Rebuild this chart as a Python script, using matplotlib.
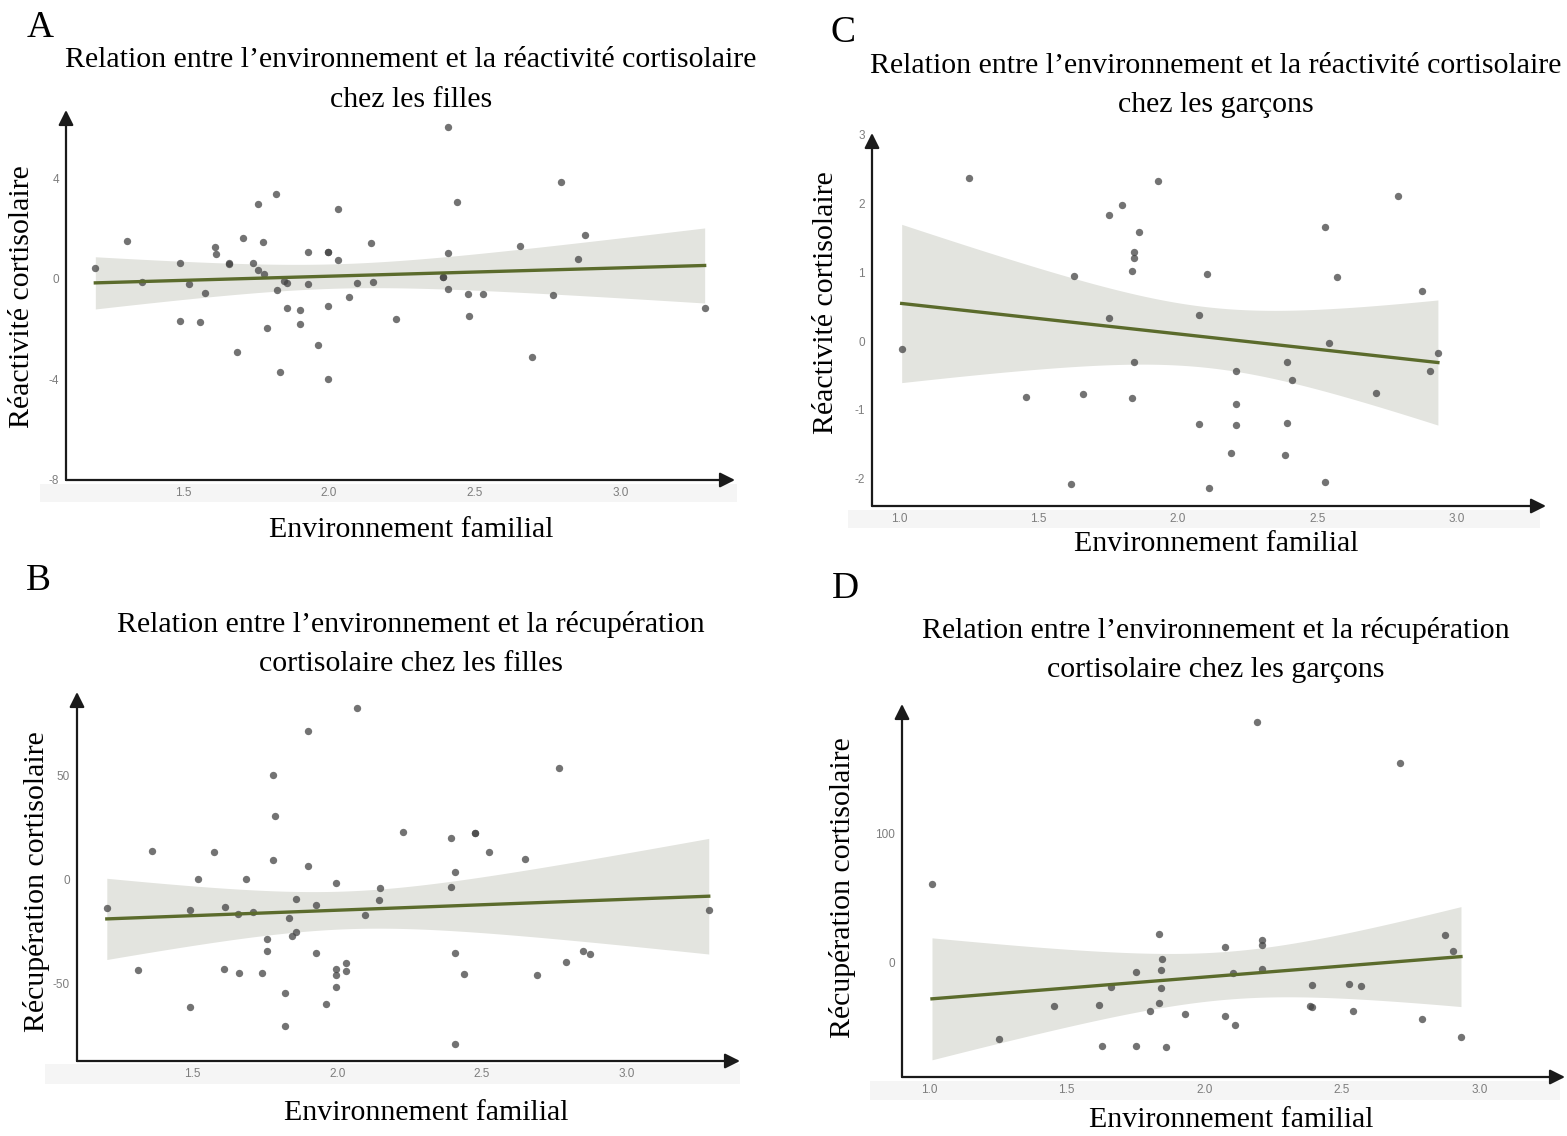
import numpy as np
import matplotlib
matplotlib.use("Agg")
import matplotlib.pyplot as plt
from matplotlib.patches import Rectangle

# ---- data ----
# A : filles, réactivité
a_x = [1.20, 1.31, 1.36, 1.49, 1.49, 1.52, 1.56, 1.575, 1.61, 1.614, 1.659, 1.659, 1.684, 1.706, 1.74,
       1.756, 1.756, 1.776, 1.778, 1.787, 1.819, 1.821, 1.834, 1.846, 1.858, 1.858, 1.90, 1.903, 1.928, 1.93,
       1.964, 1.997, 1.997, 1.998, 1.998, 2.031, 2.032, 2.07, 2.096, 2.145, 2.15, 2.23, 2.392, 2.392, 2.41,
       2.41, 2.41, 2.44, 2.478, 2.48, 2.53, 2.654, 2.695, 2.768, 2.795, 2.853, 2.877, 3.288]
a_y = [0.42, 1.51, -0.13, 0.65, -1.68, -0.19, -1.71, -0.56, 1.28, 1.01, 0.64, 0.58, -2.91, 1.62, 0.64,
       2.99, 0.36, 1.48, 0.19, -1.96, 3.36, -0.44, -3.72, -0.07, -0.16, -1.14, -1.80, -1.25, 1.07, -0.20,
       -2.64, 1.09, 1.08, -1.09, -3.99, 2.79, 0.77, -0.72, -0.16, 1.42, -0.12, -1.60, 0.09, 0.07, 6.03,
       1.05, -0.41, 3.05, -0.62, -1.47, -0.62, 1.30, -3.10, -0.65, 3.87, 0.79, 1.74, -1.15]

# B : filles, récupération
b_x = [1.204, 1.313, 1.359, 1.49, 1.491, 1.519, 1.576, 1.61, 1.613, 1.658, 1.66, 1.686, 1.708, 1.741, 1.756,
       1.756, 1.777, 1.777, 1.785, 1.82, 1.82, 1.835, 1.845, 1.857, 1.859, 1.90, 1.90, 1.926, 1.928, 1.962,
       1.997, 1.997, 1.997, 1.997, 2.031, 2.031, 2.069, 2.095, 2.144, 2.149, 2.228, 2.392, 2.392, 2.406, 2.406,
       2.406, 2.44, 2.476, 2.476, 2.526, 2.65, 2.69, 2.765, 2.79, 2.85, 2.875, 3.284]
b_y = [-13.5, -43.6, 13.9, -14.7, -61.4, 0.5, 13.3, -43.0, -13.3, -16.7, -44.7, 0.5, -15.4, -44.7, -28.7,
       -34.5, 50.5, 9.6, 30.8, -54.5, -70.5, -18.6, -27.2, -25.3, -9.5, 71.6, 6.4, -12.2, -35.1, -59.8,
       -1.8, -43.0, -45.7, -51.4, -40.1, -43.8, 82.4, -16.8, -9.8, -4.2, 22.9, 19.9, -3.4, 3.5, -35.3,
       -79.2, -45.2, 22.4, 22.2, 13.1, 9.8, -45.7, 53.7, -39.4, -34.5, -35.6, -14.7]

# C : garçons, réactivité
c_x = [1.01, 1.25, 1.455, 1.616, 1.627, 1.66, 1.753, 1.753, 1.80, 1.835, 1.835, 1.842, 1.844, 1.842, 1.86,
       1.928, 2.074, 2.074, 2.103, 2.112, 2.189, 2.21, 2.21, 2.21, 2.384, 2.39, 2.39, 2.408, 2.527, 2.527,
       2.54, 2.571, 2.711, 2.79, 2.874, 2.905, 2.932]
c_y = [-0.11, 2.37, -0.81, -2.08, 0.94, -0.77, 1.83, 0.33, 1.98, 1.01, -0.82, 1.29, 1.21, -0.30, 1.58,
       2.32, 0.38, -1.20, 0.97, -2.14, -1.62, -0.44, -0.91, -1.22, -1.65, -0.31, -1.19, -0.57, 1.65, -2.04,
       -0.03, 0.93, -0.76, 2.10, 0.72, -0.43, -0.18]

# D : garçons, récupération
d_x = [1.011, 1.254, 1.456, 1.616, 1.628, 1.662, 1.754, 1.754, 1.802, 1.836, 1.836, 1.843, 1.843, 1.845, 1.861,
       1.930, 2.074, 2.074, 2.104, 2.113, 2.191, 2.21, 2.21, 2.21, 2.384, 2.391, 2.391, 2.526, 2.54, 2.57,
       2.711, 2.791, 2.874, 2.904, 2.933]
d_y = [61.3, -59.0, -33.2, -32.2, -63.9, -18.8, -6.7, -63.9, -37.1, 22.4, -31.2, -19.1, -5.7, 2.6, -64.7,
       -39.9, 11.9, -41.0, -7.7, -47.9, 186.3, 17.5, 13.9, -4.6, -33.0, -34.3, -17.3, -16.2, -37.4, -18.0,
       154.6, -43.3, 21.9, 8.8, -57.2]

x_ticks_f = [1.5, 2.0, 2.5, 3.0]
x_ticks_g = [1.0, 1.5, 2.0, 2.5, 3.0]

W, H = 1567, 1136
fig = plt.figure(figsize=(W / 100, H / 100), dpi=100)

SERIF = "Liberation Serif"
TICK_C = "#7d7d7d"
LINE_C = "#5b6b2c"
BAND_C = "#e3e4df"
PT_C = "#444444"


def px_axes(left, right, top, bottom):
    return fig.add_axes([left / W, 1 - bottom / H, (right - left) / W, (bottom - top) / H])


def t975(df):
    z = 1.959964
    return z + (z**3 + z) / (4 * df) + (5 * z**5 + 16 * z**3 + 3 * z) / (96 * df**2)


def panel(ax, x, y, xlim, ylim, xticks, yticks):
    x = np.asarray(x)
    y = np.asarray(y)
    n = len(x)
    slope, icpt = np.polyfit(x, y, 1)
    resid = y - (icpt + slope * x)
    s = np.sqrt(np.sum(resid**2) / (n - 2))
    sxx = np.sum((x - x.mean())**2)
    xs = np.linspace(x.min(), x.max(), 200)
    fit = icpt + slope * xs
    half = t975(n - 2) * s * np.sqrt(1 / n + (xs - x.mean())**2 / sxx)
    ax.fill_between(xs, fit - half, fit + half, color=BAND_C, lw=0, zorder=1)
    ax.scatter(x, y, s=28, color=PT_C, alpha=0.75, lw=0, zorder=2)
    ax.plot(xs, fit, color=LINE_C, lw=2.4, zorder=3)

    ax.set_xlim(*xlim)
    ax.set_ylim(*ylim)
    ax.set_xticks(xticks)
    ax.set_xticklabels([f"{v:.1f}" for v in xticks])
    ax.set_yticks(yticks)
    ax.set_yticklabels([str(v) for v in yticks])
    ax.tick_params(length=0, labelsize=8.5, labelcolor=TICK_C, pad=5)
    for lab in ax.get_xticklabels() + ax.get_yticklabels():
        lab.set_family("Liberation Sans")
    for sp in ax.spines.values():
        sp.set_visible(False)
    ax.patch.set_alpha(0)
    arrow = dict(arrowstyle="-|>,head_length=0.9,head_width=0.45", color="#1a1a1a", lw=1.6,
                 shrinkA=0, shrinkB=0)
    ax.annotate("", xy=(1, 0), xytext=(0, 0), xycoords="axes fraction", arrowprops=arrow,
                annotation_clip=False)
    ax.annotate("", xy=(0, 1), xytext=(0, 0), xycoords="axes fraction", arrowprops=arrow,
                annotation_clip=False)


def txt(x, y, s, size=21.5, **kw):
    fig.text(x / W, 1 - y / H, s, family=SERIF, fontsize=size, ha="center", va="center", **kw)


# faint bands behind x tick labels (drawn below the axes)
for (l, r, t, b) in [(40, 737, 484, 502), (848, 1540, 510, 528), (45, 740, 1064, 1084), (870, 1560, 1081, 1100)]:
    fig.patches.append(Rectangle((l / W, 1 - b / H), (r - l) / W, (b - t) / H,
                                 transform=fig.transFigure, color="#f5f5f5", lw=0, zorder=-5))

axA = px_axes(66, 735, 110, 480)
panel(axA, a_x, a_y, (1.0995, 3.392), (-8.0, 6.72), x_ticks_f, [-8, -4, 0, 4])

axB = px_axes(77, 740, 692, 1061)
panel(axB, b_x, b_y, (1.101, 3.392), (-87.2, 90.2), x_ticks_f, [-50, 0, 50])

axC = px_axes(872, 1546, 133, 506)
panel(axC, c_x, c_y, (0.9036, 3.3195), (-2.395, 3.02), x_ticks_g, [-2, -1, 0, 1, 2, 3])

axD = px_axes(902, 1565, 704, 1077)
panel(axD, d_x, d_y, (0.902, 3.311), (-88.2, 200), x_ticks_g, [0, 100])

# panel letters
for (x, y, s) in [(40, 28, "A"), (843, 33, "C"), (38, 581, "B"), (845, 589, "D")]:
    txt(x, y, s, size=27)

# titles
txt(411, 60, "Relation entre l’environnement et la réactivité cortisolaire")
txt(411, 100, "chez les filles")
txt(1216, 66, "Relation entre l’environnement et la réactivité cortisolaire")
txt(1216, 105, "chez les garçons")
txt(411, 625, "Relation entre l’environnement et la récupération")
txt(411, 664, "cortisolaire chez les filles")
txt(1216, 631, "Relation entre l’environnement et la récupération")
txt(1216, 670, "cortisolaire chez les garçons")

# axis labels
txt(411, 530, "Environnement familial")
txt(1216, 544, "Environnement familial")
txt(426, 1113, "Environnement familial")
txt(1231, 1120, "Environnement familial")
txt(22, 297, "Réactivité cortisolaire", rotation=90)
txt(826, 303, "Réactivité cortisolaire", rotation=90)
txt(37, 882, "Récupération cortisolaire", rotation=90)
txt(843, 888, "Récupération cortisolaire", rotation=90)

fig.savefig("out.png", dpi=100)
